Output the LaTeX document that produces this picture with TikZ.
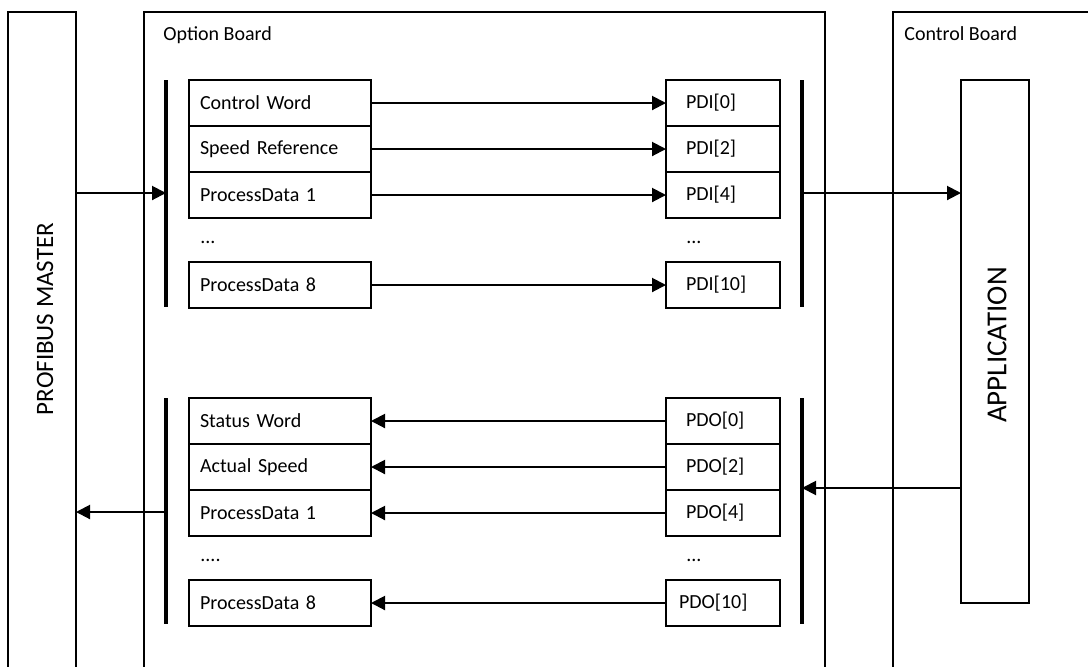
\documentclass[tikz,border=0pt]{standalone}
\usepackage{fontspec}
\setmainfont{Carlito}
\usetikzlibrary{arrows.meta}
\tikzset{
	cell/.style={draw,line width=1pt,anchor=north west,outer sep=0pt,minimum height=23pt,inner ysep=0pt,align=left},
	lcell/.style={cell,text width=80pt,inner xsep=5.5pt},
	rcell/.style={cell,text width=37pt,inner xsep=10pt},
	board/.style={draw,line width=1pt,anchor=north west,outer sep=0pt,inner sep=0pt},
	bus/.style={line width=1.8pt},
	arr/.style={line width=1pt,-{Triangle[length=7pt,width=7pt]}},
	bigtext/.style={rotate=90}
}
\begin{document}
\begin{tikzpicture}[x=0.5pt,y=-0.5pt]
		\path[use as bounding box] (0,0) rectangle (1088,666);
		\clip (0,0) rectangle (1088,666);
		% boards, open at the bottom
		\node[board,minimum width=34pt,minimum height=344pt] (master) at (8,12) {};
		\node[board,minimum width=340.5pt,minimum height=344pt] (option) at (144,12) {};
		\node[board,minimum width=110pt,minimum height=344pt] (control) at (893,12) {};
		\node[board,minimum width=34pt,minimum height=261.5pt] (app) at (961,80) {};
		\node[anchor=base west,inner sep=0pt] (optlabel) at (163,40) {Option Board};
		\node[anchor=base west,inner sep=0pt] (ctrllabel) at (904,40) {Control Board};
		\node[bigtext,font=\fontsize{12.5}{15}\selectfont] (mastertext) at (45,319) {PROFIBUS MASTER};
		\node[bigtext,font=\fontsize{14.5}{17}\selectfont] (apptext) at (997,345) {APPLICATION};
		% input data
		\node[lcell] (cw) at (189,80) {Control Word};
		\node[lcell] (sr) at (189,126) {Speed Reference};
		\node[lcell] (ina) at (189,172) {ProcessData 1};
		\node[lcell] (inh) at (189,262) {ProcessData 8};
		\node[rcell] (pdi0) at (666,80) {PDI[0]};
		\node[rcell] (pdi2) at (666,126) {PDI[2]};
		\node[rcell] (pdi4) at (666,172) {PDI[4]};
		\node[rcell] (pdi10) at (666,262) {PDI[10]};
		\node[anchor=west,inner sep=0pt] (indotsl) at (200,242) {...};
		\node[anchor=west,inner sep=0pt] (indotsr) at (686,242) {...};
		\foreach \a/\b in {cw/pdi0,sr/pdi2,ina/pdi4,inh/pdi10}
			\draw[arr] (\a) -- (\b);
		\draw[bus] (166,80) -- (166,307);
		\draw[bus] (802,80) -- (802,307);
		\coordinate (ibus) at (166,193);
		\coordinate (obus) at (802,193);
		\draw[arr] (master.east |- ibus) -- (ibus);
		\draw[arr] (obus) -- (app.west |- obus);
		% output data
		\node[lcell] (sw) at (189,398) {Status Word};
		\node[lcell] (as) at (189,444) {Actual Speed};
		\node[lcell] (outa) at (189,490) {ProcessData 1};
		\node[lcell] (outh) at (189,580) {ProcessData 8};
		\node[rcell] (pdo0) at (666,398) {PDO[0]};
		\node[rcell] (pdo2) at (666,444) {PDO[2]};
		\node[rcell] (pdo4) at (666,490) {PDO[4]};
		\node[rcell,inner xsep=6.5pt,text width=44pt] (pdo10) at (666,580) {PDO[10]};
		\node[anchor=west,inner sep=0pt] (outdotsl) at (200,560) {....};
		\node[anchor=west,inner sep=0pt] (outdotsr) at (686,560) {...};
		\foreach \a/\b in {pdo0/sw,pdo2/as,pdo4/outa,pdo10/outh}
			\draw[arr] (\a) -- (\b);
		\draw[bus] (166,398) -- (166,624);
		\draw[bus] (802,398) -- (802,624);
		\coordinate (rbus) at (166,512);
		\coordinate (tbus) at (802,488);
		\draw[arr] (rbus) -- (master.east |- rbus);
		\draw[arr] (app.west |- tbus) -- (tbus);
\end{tikzpicture}
\end{document}
